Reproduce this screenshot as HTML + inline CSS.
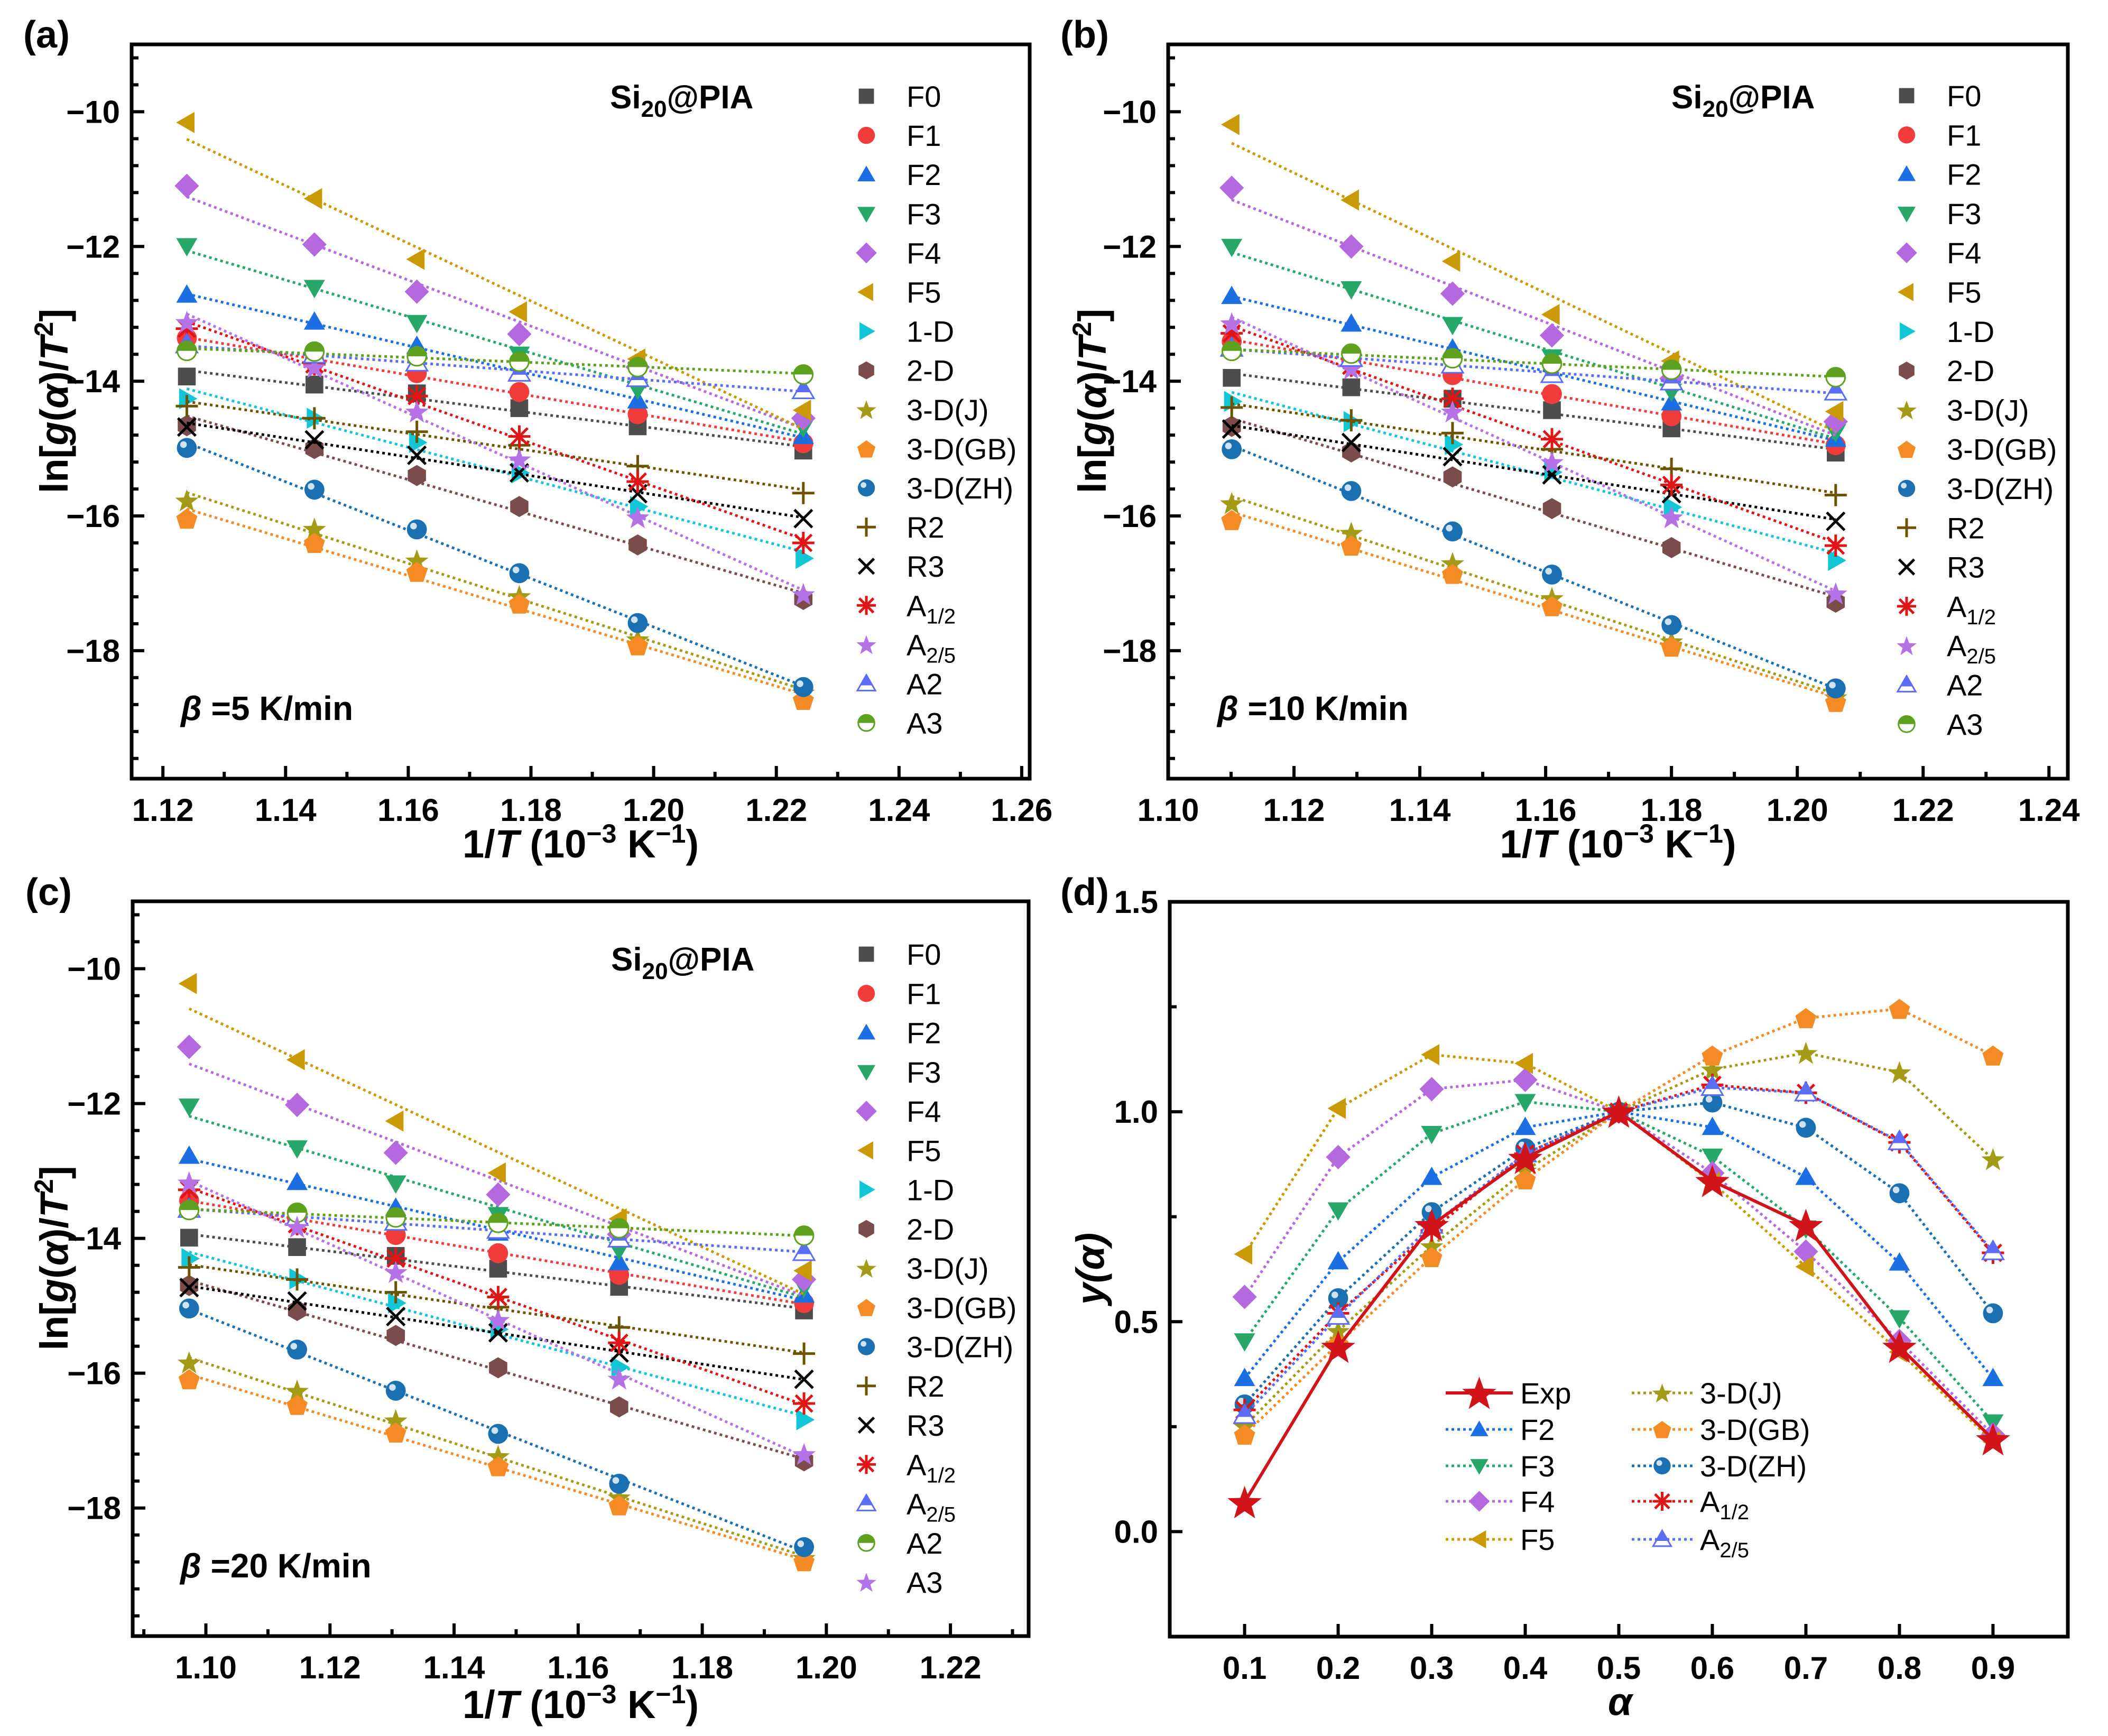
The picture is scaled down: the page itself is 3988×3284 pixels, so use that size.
<!DOCTYPE html>
<html><head><meta charset="utf-8"><style>html,body{margin:0;padding:0;background:#fff}svg{display:block}text{font-family:"Liberation Sans",Arial,sans-serif}</style></head>
<body>
<svg id="fig" xmlns="http://www.w3.org/2000/svg" width="3988" height="3284" viewBox="0 0 3988 3284"></svg>
<script>
// ---------- data ----------
const NAMES_AB = ['F0','F1','F2','F3','F4','F5','1-D','2-D','3-D(J)','3-D(GB)','3-D(ZH)','R2','R3','A1/2','A2/5','A2','A3'];
const NAMES_C  = ['F0','F1','F2','F3','F4','F5','1-D','2-D','3-D(J)','3-D(GB)','3-D(ZH)','R2','R3','A1/2','A2/5','A2','A3'];
const X_A = [1.1239,1.1447,1.1614,1.1781,1.1974,1.2244];
const X_B = [1.1101,1.1291,1.1452,1.1610,1.1800,1.2061];
const X_C = [1.0973,1.1147,1.1306,1.1471,1.1666,1.1964];
// panel a
const a_F0=[-13.93,-14.05,-14.18,-14.40,-14.67,-15.03];
const a_F1=[-13.36,-13.71,-13.88,-14.16,-14.49,-14.92];
const a_F2=[-12.72,-13.12,-13.48,-13.88,-14.29,-14.82];
const a_F3=[-11.99,-12.61,-13.13,-13.60,-14.12,-14.68];
const a_F4=[-11.10,-11.97,-12.67,-13.30,-13.79,-14.55];
const a_F5=[-10.16,-11.29,-12.19,-12.97,-13.67,-14.43];
const a_1D=[-14.26,-14.55,-14.91,-15.36,-15.86,-16.63];
const a_2D=[-14.66,-15.00,-15.40,-15.86,-16.43,-17.24];
const a_3DJ=[-15.77,-16.19,-16.66,-17.19,-17.83,-18.62];
const a_3DGB=[-16.04,-16.40,-16.83,-17.30,-17.92,-18.73];
const a_3DZH=[-14.99,-15.61,-16.20,-16.85,-17.59,-18.54];
const a_R2=[-14.37,-14.55,-14.75,-14.95,-15.26,-15.66];
const a_R3=[-14.68,-14.87,-15.10,-15.36,-15.67,-16.04];
const a_A12=[-13.22,-13.75,-14.22,-14.82,-15.49,-16.40];
const a_A25=[-13.12,-13.79,-14.45,-15.16,-16.02,-17.16];
const a_A2=[-13.46,-13.61,-13.73,-13.88,-13.96,-14.14];
const a_A3=[-13.55,-13.56,-13.63,-13.71,-13.79,-13.90];
// panel b
const b_F0=[-13.95,-14.09,-14.26,-14.43,-14.70,-15.06];
const b_F1=[-13.41,-13.70,-13.91,-14.19,-14.52,-14.95];
const b_F2=[-12.74,-13.15,-13.52,-13.89,-14.32,-14.86];
const b_F3=[-12.00,-12.63,-13.16,-13.64,-14.15,-14.75];
const b_F4=[-11.13,-12.00,-12.70,-13.32,-13.96,-14.60];
const b_F5=[-10.19,-11.31,-12.22,-13.01,-13.70,-14.45];
const b_1D=[-14.30,-14.60,-14.94,-15.35,-15.87,-16.66];
const b_2D=[-14.67,-15.05,-15.42,-15.89,-16.47,-17.28];
const b_3DJ=[-15.81,-16.25,-16.70,-17.22,-17.86,-18.69];
const b_3DGB=[-16.06,-16.44,-16.86,-17.34,-17.94,-18.76];
const b_3DZH=[-15.01,-15.63,-16.23,-16.87,-17.62,-18.56];
const b_R2=[-14.39,-14.58,-14.77,-15.01,-15.30,-15.69];
const b_R3=[-14.71,-14.91,-15.12,-15.39,-15.67,-16.08];
const b_A12=[-13.29,-13.77,-14.26,-14.86,-15.54,-16.44];
const b_A25=[-13.14,-13.81,-14.45,-15.20,-16.02,-17.15];
const b_A2=[-13.51,-13.66,-13.76,-13.90,-14.01,-14.16];
const b_A3=[-13.55,-13.59,-13.66,-13.74,-13.83,-13.94];
// panel c
const c_F0=[-13.99,-14.13,-14.26,-14.45,-14.72,-15.07];
const c_F1=[-13.44,-13.71,-13.95,-14.22,-14.54,-14.96];
const c_F2=[-12.78,-13.17,-13.55,-13.92,-14.36,-14.84];
const c_F3=[-12.04,-12.66,-13.18,-13.65,-14.17,-14.72];
const c_F4=[-11.16,-12.02,-12.73,-13.35,-13.94,-14.61];
const c_F5=[-10.22,-11.35,-12.26,-13.03,-13.71,-14.48];
const c_1D=[-14.30,-14.60,-14.96,-15.35,-15.91,-16.69];
const c_2D=[-14.70,-15.07,-15.44,-15.92,-16.50,-17.30];
const c_3DJ=[-15.84,-16.26,-16.70,-17.23,-17.84,-18.74];
const c_3DGB=[-16.09,-16.47,-16.88,-17.38,-17.96,-18.79];
const c_3DZH=[-15.04,-15.65,-16.26,-16.90,-17.64,-18.58];
const c_R2=[-14.43,-14.61,-14.80,-15.02,-15.32,-15.71];
const c_R3=[-14.73,-14.93,-15.16,-15.40,-15.70,-16.09];
const c_A12=[-13.28,-13.79,-14.30,-14.87,-15.55,-16.45];
const c_A25=[-13.57,-13.69,-13.76,-13.88,-14.01,-14.21];
const c_A2=[-13.58,-13.62,-13.69,-13.77,-13.85,-13.96];
const c_A3=[-13.17,-13.83,-14.50,-15.21,-16.08,-17.20];
// panel d
const D_ALPHA=[0.1,0.2,0.3,0.4,0.5,0.6,0.7,0.8,0.9];
const d_Exp=[0.07,0.44,0.73,0.89,1.0,0.835,0.73,0.44,0.22];
const d_F2=[0.365,0.643,0.844,0.963,1.0,0.963,0.844,0.64,0.365];
const d_F3=[0.454,0.766,0.948,1.024,1.0,0.894,0.723,0.509,0.261];
const d_F4=[0.559,0.892,1.054,1.076,1.0,0.854,0.667,0.454,0.231];
const d_F5=[0.661,1.008,1.136,1.115,1.0,0.831,0.631,0.428,0.214];
const d_3DJ=[0.251,0.478,0.68,0.86,1.0,1.101,1.14,1.094,0.887];
const d_3DGB=[0.231,0.447,0.654,0.839,1.0,1.134,1.223,1.245,1.134];
const d_3DZH=[0.303,0.556,0.761,0.913,1.0,1.022,0.962,0.806,0.52];
const d_A12=[0.29,0.52,0.717,0.9,1.0,1.064,1.045,0.927,0.664];
const d_A25=[0.277,0.513,0.73,0.9,1.0,1.058,1.045,0.929,0.667];
const TICKS_X_A=[1.12,1.14,1.16,1.18,1.20,1.22,1.24,1.26];
const TICKS_X_B=[1.10,1.12,1.14,1.16,1.18,1.20,1.22,1.24];
const TICKS_X_C=[1.10,1.12,1.14,1.16,1.18,1.20,1.22];
const TICKS_Y_ABC=[-10,-12,-14,-16,-18];
const TICKS_X_D=[0.1,0.2,0.3,0.4,0.5,0.6,0.7,0.8,0.9];
const TICKS_Y_D=[0.0,0.5,1.0,1.5];

// ---------- styles ----------
const STY = {
 'F0':['square','#4d4d4d'],'F1':['circle','#f23c3c'],'F2':['triUp','#1b6fe3'],'F3':['triDown','#27a868'],
 'F4':['diamond','#b46ade'],'F5':['triLeft','#c99a06'],'1-D':['triRight','#12c6d6'],'2-D':['hex','#7a4c4c'],
 '3-D(J)':['star','#a39b17'],'3-D(GB)':['penta','#f58b25'],'3-D(ZH)':['ball','#1a70b0'],'R2':['plus','#6b5300'],
 'R3':['cross','#000000'],'A1/2':['aster','#e01515'],'A2/5':['star','#b472e6'],'A2':['openTri','#5b6cf5'],'A3':['halfCirc','#5ea11e']
};
const STY_C = Object.assign({},STY,{'A2/5':['openTri','#5b6cf5'],'A2':['halfCirc','#5ea11e'],'A3':['star','#b472e6']});

const NS='http://www.w3.org/2000/svg';
const svg=document.getElementById('fig');
function el(tag,attrs,parent){const e=document.createElementNS(NS,tag);for(const k in attrs)e.setAttribute(k,attrs[k]);(parent||svg).appendChild(e);return e;}
const FONT='"Liberation Sans", Arial, sans-serif';

function starPts(cx,cy,R,r,n){let p=[];for(let i=0;i<2*n;i++){const a=-Math.PI/2+i*Math.PI/n;const rr=i%2?r:R;p.push((cx+rr*Math.cos(a)).toFixed(1)+','+(cy+rr*Math.sin(a)).toFixed(1));}return p.join(' ');}
function polyPts(cx,cy,R,n,rot){let p=[];for(let i=0;i<n;i++){const a=rot+i*2*Math.PI/n;p.push((cx+R*Math.cos(a)).toFixed(1)+','+(cy+R*Math.sin(a)).toFixed(1));}return p.join(' ');}

function marker(g,type,cx,cy,col,s){
 s=s||21;
 let m;
 switch(type){
  case 'square': m=el('rect',{x:cx-s*0.8,y:cy-s*0.8,width:s*1.6,height:s*1.6,fill:col},g);break;
  case 'circle': m=el('circle',{cx:cx,cy:cy,r:s*0.9,fill:col},g);break;
  case 'triUp': m=el('polygon',{points:polyPts(cx,cy+3,s*1.1,3,-Math.PI/2),fill:col},g);break;
  case 'triDown': m=el('polygon',{points:polyPts(cx,cy-3,s*1.1,3,Math.PI/2),fill:col},g);break;
  case 'triLeft': m=el('polygon',{points:polyPts(cx+3,cy,s*1.1,3,Math.PI),fill:col},g);break;
  case 'triRight': m=el('polygon',{points:polyPts(cx-3,cy,s*1.1,3,0),fill:col},g);break;
  case 'diamond': m=el('polygon',{points:polyPts(cx,cy,s*1.1,4,-Math.PI/2),fill:col},g);break;
  case 'hex': m=el('polygon',{points:polyPts(cx,cy,s*0.95,6,-Math.PI/2),fill:col},g);break;
  case 'penta': m=el('polygon',{points:polyPts(cx,cy+2,s*1.0,5,-Math.PI/2),fill:col},g);break;
  case 'star': m=el('polygon',{points:starPts(cx,cy+2,s*1.1,s*0.45,5),fill:col},g);break;
  case 'ball': m=el('g',{},g);el('circle',{cx:cx,cy:cy,r:s*0.9,fill:col},m);el('circle',{cx:cx-s*0.3,cy:cy-s*0.3,r:s*0.3,fill:'#cfe3f5'},m);break;
  case 'plus': m=el('path',{d:`M${cx-s},${cy}H${cx+s}M${cx},${cy-s}V${cy+s}`,stroke:col,'stroke-width':5,fill:'none'},g);break;
  case 'cross': m=el('path',{d:`M${cx-s*0.8},${cy-s*0.8}L${cx+s*0.8},${cy+s*0.8}M${cx-s*0.8},${cy+s*0.8}L${cx+s*0.8},${cy-s*0.8}`,stroke:col,'stroke-width':5,fill:'none'},g);break;
  case 'aster': m=el('path',{d:`M${cx-s},${cy}H${cx+s}M${cx},${cy-s}V${cy+s}M${cx-s*0.75},${cy-s*0.75}L${cx+s*0.75},${cy+s*0.75}M${cx-s*0.75},${cy+s*0.75}L${cx+s*0.75},${cy-s*0.75}`,stroke:col,'stroke-width':5,fill:'none'},g);break;
  case 'openTri': m=el('g',{},g);
    el('polygon',{points:polyPts(cx,cy+3,s*1.1,3,-Math.PI/2),fill:'#fff',stroke:col,'stroke-width':3},m);
    el('polygon',{points:`${cx},${cy+3-s*1.1} ${cx-s*0.6},${cy+3} ${cx+s*0.6},${cy+3}`,fill:col},m);break;
  case 'halfCirc': m=el('g',{},g);
    el('circle',{cx:cx,cy:cy,r:s*0.85,fill:'#fff',stroke:col,'stroke-width':3},m);
    el('path',{d:`M${cx-s*0.85},${cy}A${s*0.85},${s*0.85} 0 0 1 ${cx+s*0.85},${cy}Z`,fill:col},m);break;
 }
 return m;
}

function fmtNeg(v){return (v<0?'\u2212':'')+Math.abs(v);}

function linFit(xs,ys){const n=xs.length;let sx=0,sy=0,sxx=0,sxy=0;for(let i=0;i<n;i++){sx+=xs[i];sy+=ys[i];sxx+=xs[i]*xs[i];sxy+=xs[i]*ys[i];}const b=(n*sxy-sx*sy)/(n*sxx-sx*sx);return [b,(sy-b*sx)/n];}

function frame(g,P){
 el('rect',{x:P.L,y:P.T,width:P.R-P.L,height:P.B-P.T,fill:'none',stroke:'#000','stroke-width':7},g);
}

function scatterPanel(P){
 const g=el('g',{});
 
 
 const sx=v=>P.L+(v-P.x0)/(P.x1-P.x0)*(P.R-P.L);
 const sy=v=>P.B-(v-P.y0)/(P.y1-P.y0)*(P.B-P.T);
 // ticks
 const tg=el('g',{},g);
 
 
 P.xt.forEach(t=>{const x=sx(t);
  el('line',{x1:x,x2:x,y1:P.B,y2:P.B-24,stroke:'#000','stroke-width':6},tg);
  const lbl=el('text',{x:x,y:P.B+80,'text-anchor':'middle','font-size':60,'font-weight':'bold'},tg);lbl.textContent=t.toFixed(2);
  const xm=sx(t+0.01); if(xm<P.R-5) el('line',{x1:xm,x2:xm,y1:P.B,y2:P.B-13,stroke:'#000','stroke-width':6},tg);
  const xm2=sx(t-0.01); if(xm2>P.L+5 && t===P.xt[0]) el('line',{x1:xm2,x2:xm2,y1:P.B,y2:P.B-13,stroke:'#000','stroke-width':6},tg);
 });
 const yg=el('g',{},g);
 
 
 for(let v=-19.6;v<=-9.0;v+=0.4){const y=sy(v);const major=Math.abs(v-Math.round(v))<1e-6&&Math.round(v)%2===0;
   el('line',{x1:P.L,x2:P.L+(major?24:13),y1:y,y2:y,stroke:'#000','stroke-width':6},yg);}
 P.yt.forEach(t=>{const lbl=el('text',{x:P.L-22,y:sy(t)+21,'text-anchor':'end','font-size':60,'font-weight':'bold'},yg);lbl.textContent=fmtNeg(t);});
 frame(g,P);
 // series
 P.series.forEach((ys,i)=>{
  const nm=P.names[i];const [type,col]=P.sty[nm];
  const sg=el('g',{},g);
  
  
  const [b,a]=linFit(P.xs,ys);
  const xa=P.xs[0],xb=P.xs[P.xs.length-1];
  el('line',{x1:sx(xa),y1:sy(a+b*xa),x2:sx(xb),y2:sy(a+b*xb),stroke:col,'stroke-width':5,'stroke-dasharray':'5,6'},sg);
  P.xs.forEach((x,j)=>marker(sg,type,sx(x),sy(ys[j]),col));
 });
 // legend
 const lg=el('g',{},g);
 
 
 P.names.forEach((nm,i)=>{const y=P.legY0+i*P.legDY;const [type,col]=P.sty[nm];
  const eg=el('g',{},lg);
  
  
  marker(eg,type,P.legX,y,col,18);
  const t=el('text',{x:P.legX+76,y:y+20,'font-size':56},eg);
  const m=nm.match(/^A(\d\/\d)$/);
  if(m){t.textContent='A';const s=el('tspan',{'font-size':40,dy:14},t);s.textContent=m[1];}
  else t.textContent=nm;
 });
 // annotations
 const si=el('text',{x:P.siX,y:P.siY,'font-size':62,'font-weight':'bold'},g);
 
 
 si.textContent='Si';const s1=el('tspan',{'font-size':44,dy:16},si);s1.textContent='20';const s2=el('tspan',{dy:-16},si);s2.textContent='@PIA';
 const be=el('text',{x:P.bX,y:P.bY,'font-size':64,'font-weight':'bold'},g);
 
 
 const bb=el('tspan',{'font-style':'italic'},be);bb.textContent='\u03b2';const br=el('tspan',{},be);br.textContent=' ='+P.beta+' K/min';
 // axis titles
 const yt=el('text',{x:0,y:0,transform:`translate(${P.ytX},${(P.T+P.B)/2-20}) rotate(-90)`,'text-anchor':'middle','font-size':74,'font-weight':'bold'},g);
 
 
 [['ln['],['g','i'],['('],['\u03b1','i'],[')/'],['T','i'],['2','sup'],[']','back']].forEach(([s,f])=>{
   const ts=el('tspan',{},yt);
   if(f==='i')ts.setAttribute('font-style','italic');
   if(f==='sup'){ts.setAttribute('font-size',50);ts.setAttribute('dy',-28);}
   if(f==='back'){ts.setAttribute('dy',28);}
   ts.textContent=s;});
 const xt=el('text',{x:(P.L+P.R)/2,y:P.xtY,'text-anchor':'middle','font-size':74,'font-weight':'bold'},g);
 
 
 [['1/'],['T','i'],[' (10'],['\u22123','sup'],[' K','back'],['\u22121','sup'],[')','back']].forEach(([s,f])=>{
   const ts=el('tspan',{},xt);
   if(f==='i')ts.setAttribute('font-style','italic');
   if(f==='sup'){ts.setAttribute('font-size',50);ts.setAttribute('dy',-28);}
   if(f==='back'){ts.setAttribute('dy',28);}
   ts.textContent=s;});
 const pl=el('text',{x:P.plX,y:P.plY,'font-size':72,'font-weight':'bold'},g);
 
 
 pl.textContent=P.label;
}

scatterPanel({name:'panel-a',label:'(a)',L:249,R:1948,T:84,B:1473,x0:1.1149,x1:1.2613,y0:-19.9,y1:-9.0,
 xs:X_A,xt:TICKS_X_A,yt:TICKS_Y_ABC,names:NAMES_AB,sty:STY,
 series:[a_F0,a_F1,a_F2,a_F3,a_F4,a_F5,a_1D,a_2D,a_3DJ,a_3DGB,a_3DZH,a_R2,a_R3,a_A12,a_A25,a_A2,a_A3],
 legX:1639,legY0:182,legDY:74.1,siX:1154,siY:205,bX:342,bY:1362,beta:'5',ytX:128,xtY:1622,plX:44,plY:90});
scatterPanel({name:'panel-b',label:'(b)',L:2210,R:3912,T:84,B:1473,x0:1.10,x1:1.2430,y0:-19.9,y1:-9.0,
 xs:X_B,xt:TICKS_X_B,yt:TICKS_Y_ABC,names:NAMES_AB,sty:STY,
 series:[b_F0,b_F1,b_F2,b_F3,b_F4,b_F5,b_1D,b_2D,b_3DJ,b_3DGB,b_3DZH,b_R2,b_R3,b_A12,b_A25,b_A2,b_A3],
 legX:3607,legY0:181,legDY:74.3,siX:3162,siY:205,bX:2303,bY:1362,beta:'10',ytX:2092,xtY:1622,plX:2006,plY:90});
scatterPanel({name:'panel-c',label:'(c)',L:251,R:1946,T:1705,B:3095,x0:1.0882,x1:1.2326,y0:-19.9,y1:-9.0,
 xs:X_C,xt:TICKS_X_C,yt:TICKS_Y_ABC,names:NAMES_C,sty:STY_C,
 series:[c_F0,c_F1,c_F2,c_F3,c_F4,c_F5,c_1D,c_2D,c_3DJ,c_3DGB,c_3DZH,c_R2,c_R3,c_A12,c_A25,c_A2,c_A3],
 legX:1639,legY0:1805,legDY:74.25,siX:1156,siY:1836,bX:341,bY:2984,beta:'20',ytX:128,xtY:3250,plX:48,plY:1712});

// ---------- panel d ----------
(function(){
 const P={L:2213,R:3912,T:1706,B:3096,x0:0.02,x1:0.98,y0:-0.25,y1:1.5};
 const g=el('g',{});
 
 
 const sx=v=>P.L+(v-P.x0)/(P.x1-P.x0)*(P.R-P.L);
 const sy=v=>P.B-(v-P.y0)/(P.y1-P.y0)*(P.B-P.T);
 const tg=el('g',{},g);
 
 
 TICKS_X_D.forEach(t=>{const x=sx(t);el('line',{x1:x,x2:x,y1:P.B,y2:P.B-24,stroke:'#000','stroke-width':6},tg);
  const l=el('text',{x:x,y:P.B+80,'text-anchor':'middle','font-size':60,'font-weight':'bold'},tg);l.textContent=t.toFixed(1);});
 const yg=el('g',{},g);
 
 
 for(let v=-0.25;v<=1.5001;v+=0.25){const y=sy(v);const major=Math.abs(v*2-Math.round(v*2))<1e-6;
  el('line',{x1:P.L,x2:P.L+(major?24:13),y1:y,y2:y,stroke:'#000','stroke-width':6},yg);}
 TICKS_Y_D.forEach(t=>{const l=el('text',{x:P.L-22,y:sy(t)+21,'text-anchor':'end','font-size':60,'font-weight':'bold'},yg);l.textContent=t.toFixed(1);});
 frame(g,P);
 const DSER=[['F2',d_F2,'triUp','#1b6fe3'],['F3',d_F3,'triDown','#27a868'],['F4',d_F4,'diamond','#b46ade'],['F5',d_F5,'triLeft','#c99a06'],
  ['3-D(J)',d_3DJ,'star','#a39b17'],['3-D(GB)',d_3DGB,'penta','#f58b25'],['3-D(ZH)',d_3DZH,'ball','#1a70b0'],['A1/2',d_A12,'aster','#e01515'],['A2/5',d_A25,'openTri','#5b6cf5']];
 DSER.forEach(([nm,ys,type,col])=>{
  const sg=el('g',{},g);
  
  
  el('polyline',{points:D_ALPHA.map((a,i)=>sx(a)+','+sy(ys[i])).join(' '),fill:'none',stroke:col,'stroke-width':5,'stroke-dasharray':'5,6'},sg);
  D_ALPHA.forEach((a,i)=>marker(sg,type,sx(a),sy(ys[i]),col));
 });
 const eg=el('g',{},g);
 
 
 el('polyline',{points:D_ALPHA.map((a,i)=>sx(a)+','+sy(d_Exp[i])).join(' '),fill:'none',stroke:'#d0141a','stroke-width':6},eg);
 D_ALPHA.forEach((a,i)=>el('polygon',{points:starPts(sx(a),sy(d_Exp[i])+3,34,14,5),fill:'#d0141a'},eg));
 // legend
 const lg=el('g',{},g);
 
 
 const rows=[2635,2704,2773,2840,2912];
 const LEG=[['Exp','exp','#d0141a',0,0],['F2','triUp','#1b6fe3',0,1],['F3','triDown','#27a868',0,2],['F4','diamond','#b46ade',0,3],['F5','triLeft','#c99a06',0,4],
  ['3-D(J)','star','#a39b17',1,0],['3-D(GB)','penta','#f58b25',1,1],['3-D(ZH)','ball','#1a70b0',1,2],['A1/2','aster','#e01515',1,3],['A2/5','openTri','#5b6cf5',1,4]];
 LEG.forEach(([nm,type,col,c,r])=>{
  const x0=c?3087:2735,x1=c?3202:2862,y=rows[r];
  const e=el('g',{},lg);
  
  
  if(type==='exp'){el('line',{x1:x0,x2:x1,y1:y,y2:y,stroke:col,'stroke-width':6},e);el('polygon',{points:starPts((x0+x1)/2,y+3,34,14,5),fill:col},e);}
  else{el('line',{x1:x0,x2:x1,y1:y,y2:y,stroke:col,'stroke-width':5,'stroke-dasharray':'5,6'},e);marker(e,type,(x0+x1)/2,y,col,18);}
  const t=el('text',{x:x1+14,y:y+20,'font-size':56},e);
  const m=nm.match(/^A(\d\/\d)$/);
  if(m){t.textContent='A';const s=el('tspan',{'font-size':40,dy:14},t);s.textContent=m[1];}else t.textContent=nm;
 });
 const yt=el('text',{x:0,y:0,transform:`translate(2088,2400) rotate(-90)`,'text-anchor':'middle','font-size':74,'font-weight':'bold','font-style':'italic'},g);
 
 
 yt.textContent='y(\u03b1)';
 const xt=el('text',{x:3065,y:3244,'text-anchor':'middle','font-size':74,'font-weight':'bold','font-style':'italic'},g);
 
 
 xt.textContent='\u03b1';
 const pl=el('text',{x:2006,y:1712,'font-size':72,'font-weight':'bold'},g);
 
 
 pl.textContent='(d)';
})();
</script>
</body></html>
